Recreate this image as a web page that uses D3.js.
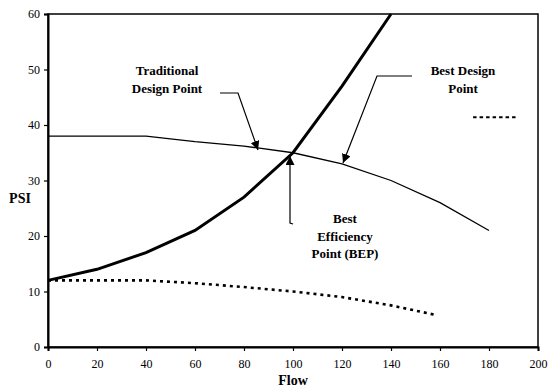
<!DOCTYPE html>
<html>
<head>
<meta charset="utf-8">
<script src="https://cdn.jsdelivr.net/npm/d3@7"></script>
<style>
  body { margin: 0; background: #fff; }
</style>
</head>
<body>
<div id="chart"></div>
<script>
// chart data
var flowSystem = [0, 20, 40, 60, 80, 100, 120, 140];
var psiSystem  = [12, 14, 17, 21, 27, 35, 47, 60];

var flowPump = [0, 40, 60, 80, 100, 120, 140, 160, 180];
var psiPump  = [38, 38, 37, 36.2, 35, 33, 30, 26, 21];

var flowEff = [0, 20, 40, 60, 80, 100, 120, 140, 158];
var psiEff  = [12, 12, 12, 11.5, 10.8, 10, 9, 7.5, 5.8];

var xTicks = [0, 20, 40, 60, 80, 100, 120, 140, 160, 180, 200];
var yTicks = [0, 10, 20, 30, 40, 50, 60];

var serif = "'Liberation Serif', 'Times New Roman', 'DejaVu Serif', serif";

var svgWidth = 560, svgHeight = 388;
var margin = { top: 14, right: 22, bottom: 41, left: 48 };
var width = svgWidth - margin.left - margin.right;
var height = svgHeight - margin.top - margin.bottom;

var svg = d3.select("#chart")
    .append("svg")
    .attr("width", svgWidth)
    .attr("height", svgHeight);

// arrow head marker
svg.append("defs").append("marker")
    .attr("id", "arrow")
    .attr("viewBox", "0 0 10 10")
    .attr("refX", 10)
    .attr("refY", 5)
    .attr("markerWidth", 9)
    .attr("markerHeight", 9)
    .attr("markerUnits", "userSpaceOnUse")
    .attr("orient", "auto")
    .append("path")
    .attr("d", "M0,0 L10,5 L0,10 Z")
    .attr("fill", "#000");

var chartGroup = svg.append("g")
    .attr("transform", `translate(${margin.left}, ${margin.top})`);

var x = d3.scaleLinear().domain([0, 200]).range([0, width]);
var y = d3.scaleLinear().domain([0, 60]).range([height, 0]);

// frame
chartGroup.append("rect")
    .attr("width", width)
    .attr("height", height)
    .attr("fill", "none")
    .attr("stroke", "#000")
    .attr("stroke-width", 1.5);

// axes
var xAxis = chartGroup.append("g")
    .attr("transform", `translate(0, ${height})`)
    .call(d3.axisBottom(x).tickValues(xTicks).tickSize(4).tickPadding(8));
var yAxis = chartGroup.append("g")
    .call(d3.axisLeft(y).tickValues(yTicks).tickSize(4).tickPadding(4));

[xAxis, yAxis].forEach(function(ax) {
    ax.attr("font-family", null);
    ax.select(".domain").attr("stroke-width", 2);
    ax.selectAll(".tick line").attr("stroke-width", 1.2);
    ax.selectAll("text")
        .style("font-family", serif)
        .style("font-size", "12px")
        .attr("fill", "#000");
});

// lines
function toPoints(xs, ys) {
    return xs.map(function(v, i) { return { flow: v, psi: ys[i] }; });
}
var line = d3.line()
    .x(d => x(d.flow))
    .y(d => y(d.psi));

chartGroup.append("path")
    .datum(toPoints(flowPump, psiPump))
    .attr("d", line)
    .attr("fill", "none")
    .attr("stroke", "#000")
    .attr("stroke-width", 1.3);

chartGroup.append("path")
    .datum(toPoints(flowEff, psiEff))
    .attr("d", line)
    .attr("fill", "none")
    .attr("stroke", "#000")
    .attr("stroke-width", 2.6)
    .attr("stroke-dasharray", "3,4");

chartGroup.append("path")
    .datum(toPoints(flowSystem, psiSystem))
    .attr("d", line)
    .attr("fill", "none")
    .attr("stroke", "#000")
    .attr("stroke-width", 3);

// leftover legend key
chartGroup.append("line")
    .attr("x1", x(173.5)).attr("x2", x(192))
    .attr("y1", y(41.4)).attr("y2", y(41.4))
    .attr("stroke", "#000")
    .attr("stroke-width", 2)
    .attr("stroke-dasharray", "3.5,3");

// annotations
function label(lines, cx, cy) {
    var t = chartGroup.append("text")
        .attr("text-anchor", "middle")
        .style("font-family", serif)
        .style("font-weight", "bold")
        .style("font-size", "13px")
        .attr("fill", "#000");
    lines.forEach(function(s, i) {
        t.append("tspan").attr("x", cx).attr("y", cy + i * 17.5).text(s);
    });
}
function pointer(pts) {
    chartGroup.append("path")
        .attr("d", d3.line()(pts))
        .attr("fill", "none")
        .attr("stroke", "#000")
        .attr("stroke-width", 1.2)
        .attr("marker-end", "url(#arrow)");
}

label(["Traditional", "Design Point"], 119, 61);
pointer([[172, 79], [190, 79], [210, 136]]);

label(["Best Design", "Point"], 415, 61);
pointer([[364, 62], [329, 62], [295, 149]]);

label(["Best", "Efficiency", "Point (BEP)"], 297, 209);
pointer([[245, 210], [242, 209], [242, 142]]);

// axis titles
svg.append("text")
    .attr("x", 20).attr("y", 203)
    .attr("text-anchor", "middle")
    .style("font-family", serif)
    .style("font-weight", "bold")
    .style("font-size", "14px")
    .text("PSI");

svg.append("text")
    .attr("x", 293).attr("y", 385)
    .attr("text-anchor", "middle")
    .style("font-family", serif)
    .style("font-weight", "bold")
    .style("font-size", "14px")
    .text("Flow");
</script>
</body>
</html>
